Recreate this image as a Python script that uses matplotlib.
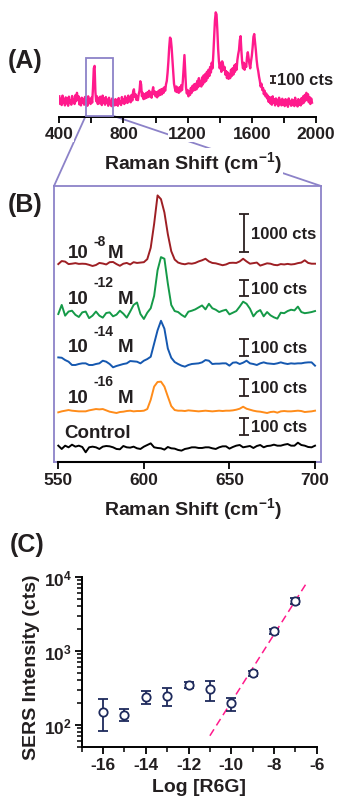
import numpy as np
import matplotlib
matplotlib.use('Agg')
import matplotlib.pyplot as plt
from matplotlib.patches import Rectangle, ConnectionPatch
from matplotlib.ticker import MultipleLocator, LogLocator, FuncFormatter, NullFormatter, FixedLocator

plt.rcParams['font.family'] = ['Liberation Sans', 'DejaVu Sans']
plt.rcParams['font.weight'] = 'bold'
plt.rcParams['axes.labelweight'] = 'bold'
plt.rcParams['mathtext.fontset'] = 'custom'
plt.rcParams['mathtext.rm'] = 'Liberation Sans:bold'
plt.rcParams['mathtext.bf'] = 'Liberation Sans:bold'
plt.rcParams['mathtext.it'] = 'Liberation Sans:bold:italic'
plt.rcParams['mathtext.default'] = 'rm'
plt.rcParams['axes.unicode_minus'] = False

# ---------------- data ----------------
# (A) full SERS spectrum, 400-1975 cm-1 every 5 cm-1 (counts)
A_shift = np.arange(400, 1976, 5)
A_counts = [
    300, 190, 265, 175, 310, 215, 250, 170, 285, 200,
    270, 165, 295, 205, 240, 180, 305, 225, 260, 190,
    315, 230, 350, 260, 300, 185, 265, 170, 280, 210,
    255, 180, 290, 200, 245, 165, 300, 215, 260, 190,
    280, 210, 420, 700, 735, 360, 230, 300, 190, 270,
    200, 295, 230, 175, 310, 205, 265, 180, 290, 215,
    250, 165, 280, 195, 235, 160, 270, 190, 225, 170,
    260, 180, 245, 165, 275, 200, 230, 175, 290, 210,
    255, 190, 300, 215, 270, 205, 310, 230, 280, 215,
    320, 240, 360, 400, 290, 330, 250, 300, 245, 330,
    380, 515, 470, 300, 350, 260, 330, 270, 345, 280,
    360, 290, 380, 300, 350, 280, 370, 430, 330, 370,
    300, 360, 285, 370, 310, 390, 320, 400, 330, 410,
    350, 430, 380, 470, 520, 640, 800, 1000, 1140, 1120,
    1000, 820, 620, 480, 420, 370, 440, 360, 420, 350,
    430, 370, 460, 390, 520, 700, 890, 640, 420, 340,
    390, 300, 370, 320, 420, 350, 450, 380, 470, 390,
    480, 400, 520, 430, 560, 450, 520, 440, 570, 470,
    600, 500, 620, 520, 650, 560, 680, 590, 720, 640,
    780, 700, 900, 1150, 1380, 1500, 1470, 1250, 980, 800,
    700, 780, 650, 800, 760, 680, 720, 610, 660, 560,
    640, 550, 620, 560, 680, 590, 700, 610, 740, 650,
    760, 680, 820, 900, 960, 1100, 1160, 950, 780, 700,
    780, 680, 760, 720, 860, 930, 840, 760, 700, 800,
    880, 1000, 1150, 1190, 1080, 960, 820, 720, 660, 580,
    520, 440, 480, 390, 420, 330, 380, 300, 340, 270,
    310, 220, 290, 200, 280, 180, 300, 210, 260, 170,
    270, 190, 250, 160, 280, 200, 240, 170, 265, 185,
    230, 160, 260, 180, 245, 150, 270, 190, 225, 165,
    255, 175, 240, 160, 280, 195, 230, 155, 260, 180,
    245, 170, 275, 195, 300, 210, 320, 240, 350, 250,
    330, 215, 290, 190, 270, 210,
]
A_zoom_range = [565, 733]

# (B) zoomed spectra 550-700 cm-1 every 2 cm-1 (baseline-subtracted counts)
B_shift = np.arange(550, 701, 2)
B_labels = ['-8', '-12', '-14', '-16', 'Control']
spec_1e8 = [
    -10, 70, 55, -10, 0, 15, -5, 0, -5, -30,
    -60, -35, 20, 5, -20, 40, 45, -10, -55, 0,
    20, -20, 40, 20, 30, 40, 120, 420, 1050, 1800,
    1700, 1350, 780, 330, 110, 30, 0, -15, 10, 0,
    20, 60, 90, 130, 60, 20, 10, -15, -40, -20,
    20, 25, 20, 60, 130, 60, 0, 15, 30, -50,
    -20, 10, 0, -30, -40, -10, -20, -5, -20, -10,
    15, 30, 90, 20, 0, 0]
spec_1e12 = [
    0, 55, -10, 15, 20, -5, -18, 10, 15, -25,
    -10, 15, -10, -22, 6, 10, -14, -4, 20, 2,
    -22, 15, 55, 70, 0, -30, 8, 35, 110, 265,
    345, 335, 185, 55, 18, 12, -5, -18, 14, 20,
    28, 40, 52, 28, 62, 35, 26, 12, 20, 26,
    -2, 8, 18, 45, 75, 62, 32, -14, 12, 24,
    -14, 12, -8, -20, -28, 8, 5, 18, 26, 22,
    45, 12, 5, 8, 12, 18]
spec_1e14 = [
    36, 34, 20, 10, -10, -10, -4, 0, 0, -10,
    -10, -4, 0, 16, 10, -4, -24, -16, -10, -4,
    0, 14, 12, 10, 0, 16, 26, 40, 120, 200,
    258, 210, 90, 34, 8, -4, -14, -20, -10, -4,
    -2, 0, 6, 20, 16, -4, -2, -2, 0, 0,
    -14, 4, 6, -4, 4, 16, 0, -4, -10, 0,
    6, 0, -2, -4, 0, 6, 0, -4, 0, -2,
    0, 0, 4, 6, 6, -14]
spec_1e16 = [
    -6, 0, 4, 8, 4, 2, 0, 0, 0, 6,
    10, 14, 12, 14, 6, -2, -6, -10, -4, -2,
    2, 4, 0, 2, 2, 4, 14, 70, 150, 178,
    180, 150, 90, 32, 8, 4, 4, 2, 6, 4,
    2, 0, 2, 4, 2, 0, 2, 4, 2, 4,
    4, 6, 10, 16, 28, 16, 10, 4, 0, -2,
    -6, -10, -4, -2, -8, 0, 2, 0, 0, 2,
    4, 2, -4, -2, 0, 4]
spec_control = [
    10, -10, 10, 0, 16, 4, 10, 2, -30, 0,
    4, 0, -10, 4, 8, 6, 0, -10, -12, 8,
    0, -2, 4, -6, -10, 4, 14, 24, 0, -4,
    -6, -14, 2, -6, -8, -16, -20, -10, -6, 0,
    0, -4, -4, 0, 0, -6, -10, 0, 6, 6,
    -8, 2, 10, 14, 0, 4, 8, -4, 8, 14,
    0, 8, 10, 16, 10, 10, 16, 20, 10, 10,
    28, 14, 10, 2, 0, 10]
B_bar_counts = [1000, 100, 100, 100, 100]

# (C) calibration
log_conc = [-16, -15, -14, -13, -12, -11, -10, -9, -8, -7]
sers_int = [151, 137, 237, 249, 347, 306, 198, 505, 1845, 4786]
err_lo = [68, 23, 45, 67, 27, 97, 42, 41, 131, 431]
err_hi = [73, 27, 48, 64, 31, 91, 31, 37, 138, 414]
fit_slope = 0.456
fit_intercept = 6.871
fit_range = [-11.0, -6.5]

# ---------------- style ----------------
PINK = '#ff1a8c'
LAV = '#8c82c8'
COLS = ['#9e1f24', '#159a48', '#1558b0', '#ff8c1a', '#000000']
NAVY = '#1e2a5c'
TXT = '#231f20'
BAR = '#2b2020'

W, H = 340, 803
fig = plt.figure(figsize=(W / 100, H / 100), dpi=100)
fig.patch.set_facecolor('white')


def rect(l, t, r, b):
    return [l / W, 1 - b / H, (r - l) / W, (b - t) / H]


def fp(x, y):
    return (x / W, 1 - y / H)


# ---------------- panel A ----------------
axA = fig.add_axes(rect(59.3, 8, 316, 118.3))
axA.set_facecolor('none')
axA.plot(A_shift, A_counts, color=PINK, lw=1.7, zorder=2)
axA.set_xlim(400, 2000)
axA.set_ylim(0, 1577)
for s in ['left', 'right', 'top']:
    axA.spines[s].set_visible(False)
axA.spines['bottom'].set_linewidth(1.4)
axA.set_yticks([])
axA.xaxis.set_major_locator(MultipleLocator(400))
axA.xaxis.set_minor_locator(MultipleLocator(200))
axA.tick_params(axis='x', which='both', direction='out', length=4.5, width=1.3,
                labelsize=12.5, pad=2, colors='black', labelcolor=TXT)
axA.set_xlabel('Raman Shift (cm$^{-1}$)', fontsize=14, color=TXT, va='center',
               bbox=dict(facecolor='white', edgecolor='none', pad=0.5))
axA.xaxis.set_label_coords(*fp(193, 163), transform=fig.transFigure)
axA.add_patch(Rectangle((A_zoom_range[0], 23), A_zoom_range[1] - A_zoom_range[0], 825,
                        fill=False, ec=LAV, lw=1.3, zorder=3))
axA.errorbar([1729], [540], yerr=[50], color=BAR, lw=1.3, capsize=2.5, capthick=1.3)
axA.text(1760, 540, '100 cts', fontsize=12, va='center', ha='left', color=TXT)

# ---------------- panel B ----------------
axB = fig.add_axes(rect(54, 187, 321, 463))
axB.set_xlim(547.49, 703.5)
axB.set_ylim(0, 1673)
for s in axB.spines.values():
    s.set_color(LAV)
    s.set_linewidth(1.3)
axB.set_yticks([])
axB.set_xticks([550, 600, 650, 700])
axB.tick_params(axis='x', which='both', direction='out', length=5, width=1.3,
                labelsize=12.5, pad=2, colors='black', labelcolor=TXT)
axB.plot([550, 700], [0, 0], transform=axB.get_xaxis_transform(), color='black',
         lw=1.5, clip_on=False, zorder=5)
offsets = [1202, 897, 598, 307, 89]
scales = [0.23, 1.0, 1.0, 1.0, 1.0]
specs = [spec_1e8, spec_1e12, spec_1e14, spec_1e16, spec_control]
for spec, off, sc, c in zip(specs, offsets, scales, COLS):
    axB.plot(B_shift, off + sc * np.array(spec), color=c, lw=1.4)
bar_centers = [1387, 1054, 693, 453, 216]
for bc, cnt, sc in zip(bar_centers, B_bar_counts, scales):
    axB.errorbar([658.5], [bc], yerr=[cnt * sc / 2], color=BAR, lw=1.3,
                 capsize=3.3, capthick=1.3)
    axB.text(662.5, bc, f'{cnt} cts', fontsize=12, va='center', ha='left', color=TXT)
axB.set_xlabel('Raman Shift (cm$^{-1}$)', fontsize=14, color=TXT, va='center')
axB.xaxis.set_label_coords(*fp(193, 509), transform=fig.transFigure)

# trace labels
lab_pos = [  # (x10, base, xsup, supbase, xM)
    (68, 258, 94, 246, 108),
    (68, 304, 93, 287, 118),
    (68, 351.7, 93, 336, 118),
    (68, 402.7, 93, 386.5, 118),
]
for (x10, yb, xs, ys, xm), lab in zip(lab_pos, B_labels[:4]):
    fig.text(*fp(x10, yb), '10', fontsize=13.5, va='baseline', ha='left', color=TXT)
    fig.text(*fp(xs, ys), lab, fontsize=10, va='baseline', ha='left', color=TXT)
    fig.text(*fp(xm, yb), 'M', fontsize=13.5, va='baseline', ha='left', color=TXT)
fig.text(*fp(64, 438.3), B_labels[4], fontsize=13.5, va='baseline', ha='left', color=TXT)

# ---------------- panel C ----------------
axC = fig.add_axes(rect(81.7, 578, 316.7, 748.3))
axC.set_yscale('log')
axC.set_xlim(-17, -6)
axC.set_ylim(50, 1e4)
fx = np.array(fit_range)
axC.plot(fx, 10 ** (fit_intercept + fit_slope * fx), color=PINK, lw=1.1,
         dashes=(5, 3), zorder=2)
axC.errorbar(log_conc, sers_int, yerr=[err_lo, err_hi], fmt='o', mfc='white',
             mec=NAVY, ecolor=NAVY, ms=6, mew=1.3, capsize=3.5, elinewidth=1.3,
             capthick=1.3, zorder=3)
for s in ['right', 'top']:
    axC.spines[s].set_visible(False)
for s in ['left', 'bottom']:
    axC.spines[s].set_linewidth(1.4)
axC.yaxis.set_major_locator(FixedLocator([1e2, 1e3, 1e4]))
axC.yaxis.set_major_formatter(FuncFormatter(lambda v, p: r'$10^{%d}$' % round(np.log10(v))))
axC.yaxis.set_minor_locator(LogLocator(base=10, subs=np.arange(2, 10)))
axC.yaxis.set_minor_formatter(NullFormatter())
axC.xaxis.set_major_locator(MultipleLocator(2))
axC.xaxis.set_minor_locator(MultipleLocator(1))
axC.tick_params(which='major', direction='out', length=5, width=1.3, labelsize=12.5,
                pad=2, labelcolor=TXT)
axC.tick_params(which='minor', direction='out', length=3.5, width=1.1)
axC.set_xlabel('Log [R6G]', fontsize=14, color=TXT, va='center')
axC.xaxis.set_label_coords(*fp(199, 788), transform=fig.transFigure)
axC.set_ylabel('SERS Intensity (cts)', fontsize=14, color=TXT, va='center')
axC.yaxis.set_label_coords(*fp(31.5, 667), transform=fig.transFigure)

# panel letters
for lab, (x, y) in zip(['(A)', '(B)', '(C)'], [(25.5, 61), (25.5, 205), (27.5, 545)]):
    fig.text(*fp(x, y), lab, fontsize=18, ha='center', va='center', color=TXT)

# connectors from zoom box to panel B
for xa, xb in [(A_zoom_range[0], 0), (A_zoom_range[1], 1)]:
    con = ConnectionPatch(xyA=(xa, 23), coordsA=axA.transData, xyB=(xb, 1),
                          coordsB=axB.transAxes, color=LAV, lw=1.3, zorder=-1)
    fig.add_artist(con)

fig.canvas.draw()
for lbl in axA.xaxis.get_majorticklabels():
    lbl.set_bbox(dict(facecolor='white', edgecolor='none', pad=0.5))

fig.savefig('out.png', dpi=100, facecolor='white')
